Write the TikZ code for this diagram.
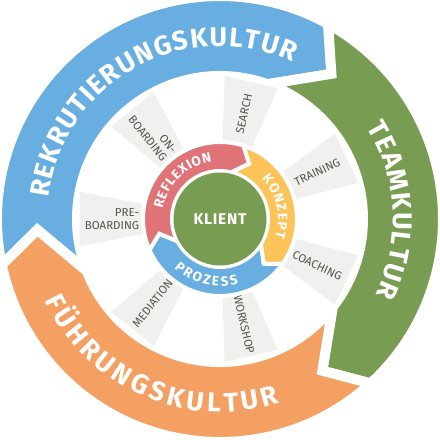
\documentclass[tikz,border=0pt]{standalone}
\usepackage{fontspec}
\setmainfont{Fira Sans}
\usetikzlibrary{decorations.text}

\definecolor{kblue}{HTML}{68AEE0}
\definecolor{kgreen}{HTML}{789D52}
\definecolor{korange}{HTML}{F4A062}
\definecolor{kred}{HTML}{E07378}
\definecolor{kyellow}{HTML}{FCC458}
\definecolor{kbox}{HTML}{F0F0EE}
\definecolor{kgray}{HTML}{55554D}

\newcommand{\bigring}{\bfseries\fontsize{27}{27}\selectfont}
\newcommand{\smallring}{\bfseries\fontsize{13.5}{13.5}\selectfont}

% colour, inner r, outer r, start angle, end angle, outer offset, inner offset, gap
\newcommand{\ringpart}[8]{%
  \filldraw[fill=#1, draw=white, line width=#8]
    ({#4+#6}:#3) arc[start angle={#4+#6}, end angle={#5+#6}, radius=#3]
    -- ({#5}:{(#2+#3)/2}) -- ({#5+#7}:#2)
    arc[start angle={#5+#7}, end angle={#4+#7}, radius=#2]
    -- ({#4}:{(#2+#3)/2}) -- cycle;}

\begin{document}
\begin{tikzpicture}[x=1pt, y=1pt,
    boxlabel/.style={text=kgray, font=\fontsize{11.5}{12.5}\selectfont, inner sep=0pt},
    ringtext/.style={decorate, decoration={text along path, text align=fit to path, text color=white}}]
  \useasboundingbox (-220,-221) rectangle (220,219);

  % outer ring
  \ringpart{kblue}{143}{223}{183.4}{52.5}{8.5}{18}{10pt}
  \ringpart{kgreen}{143}{223}{52.5}{-56}{8.5}{18}{10pt}
  \ringpart{korange}{143}{223}{-56}{-176.6}{8.5}{18}{10pt}

  % boxes
  \foreach \a/\txt/\rot/\al [count=\i] in {180/{PRE-\\BOARDING}/0/right,
      128.57/{ON-\\BOARDING}/-51.43/right, 77.14/SEARCH/77.14/center,
      25.71/TRAINING/25.71/center, -25.71/COACHING/-25.71/center,
      -77.14/WORKSHOP/-77.14/center, -128.57/MEDIATION/51.43/center}{
    \fill[kbox] (\a-11:77) -- (\a-11:143) -- (\a+11:143) -- (\a+11:77) -- cycle;
    \node[boxlabel, rotate=\rot, align=\al] (box\i) at (\a:108) {\txt};
  }

  % inner ring
  \ringpart{kred}{48}{77}{193.8}{62.2}{10}{14}{4pt}
  \ringpart{kyellow}{48}{77}{62.2}{-45.7}{10}{14}{4pt}
  \ringpart{kblue}{48}{77}{-45.7}{-166.2}{10}{14}{4pt}

  \node[circle, fill=kgreen, minimum size=93pt, inner sep=0pt, text=white,
    font=\bfseries\fontsize{15.5}{15.5}\selectfont\addfontfeature{LetterSpace=5}] (klient) at (0,0) {KLIENT};

  % ring texts
  \path[ringtext, decoration={text={|\bigring|REKRUTIERUNGSKULTUR}}]
    (173:173) arc[start angle=173, end angle=65, radius=173];
  \path[ringtext, decoration={text={|\bigring|TEAMKULTUR}}]
    (32:173) arc[start angle=32, end angle=-26, radius=173];
  \path[ringtext, decoration={text={|\bigring|FÜHRUNGSKULTUR}}]
    (205:193) arc[start angle=205, end angle=288, radius=193];
  \path[ringtext, decoration={text={|\smallring|REFLEXION}}]
    (170:58) arc[start angle=170, end angle=98, radius=58];
  \path[ringtext, decoration={text={|\smallring|KONZEPT}}]
    (44:58) arc[start angle=44, end angle=-19, radius=58];
  \path[ringtext, decoration={text={|\smallring|PROZESS}}]
    (227:67) arc[start angle=227, end angle=286, radius=67];
\end{tikzpicture}
\end{document}
